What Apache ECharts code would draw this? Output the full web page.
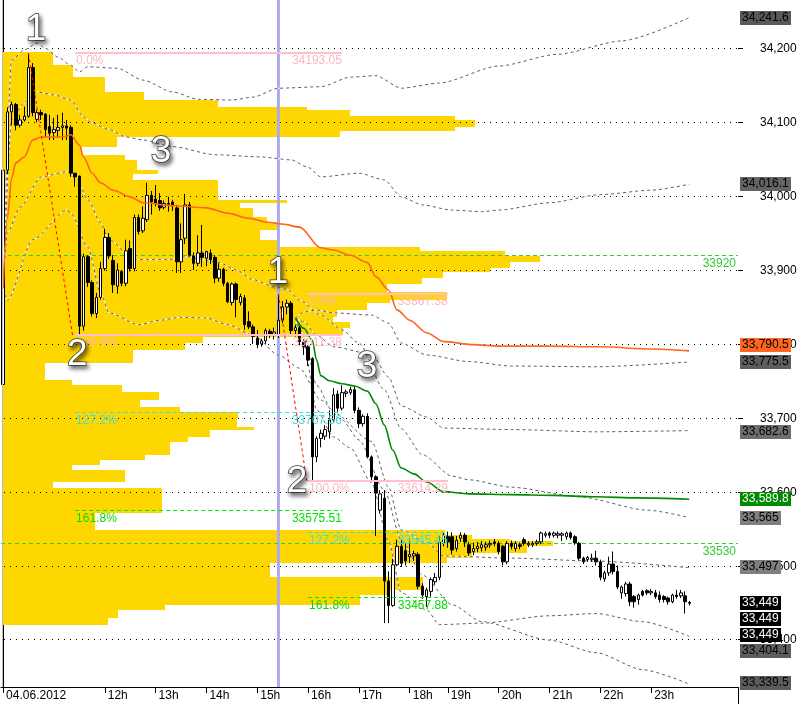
<!DOCTYPE html>
<html><head><meta charset="utf-8">
<script src="https://cdn.jsdelivr.net/npm/echarts@6/dist/echarts.min.js"></script>
<style>html,body{margin:0;padding:0;background:#fff}#c{width:799px;height:704px}</style>
</head><body><div id="c"></div><script>
// ---------------- DATA ----------------
const sessionHours = [10,11,12,13,14,15,16,17,18,19,20,21,22,23];
const barsPerHour  = [12,12,12,12,12,12,12,12, 9,12,12,12,12,12];
const futureSlots = ['00:00','00:05','00:10','00:15','00:20','00:25','00:30','00:35','00:40'];
const dateLabel = '04.06.2012';

// [open, close, low, high] M5 bars
const candles = [
[33745,34035,33730,34040],[34035,34114,34030,34120],[34114,34124,34096,34128],[34124,34096,34089,34126],
[34096,34103,34093,34110],[34103,34108,34101,34121],[34108,34174,34106,34193.05],[34174,34113,34108,34180],
[34104,34113,34100,34117],[34113,34110,34103,34117],[34111,34090,34080,34112],[34094,34085,34076,34110],
[34086,34090,34076,34106],[34089,34093,34079,34110],[34093,34095,34076,34113],[34095,34092,34076,34103],
[34093,34031,34026,34096],[34031,34026,34013,34031],[34027,33824,33811.38,34028],[33824,33918,33818,33922],
[33918,33883,33877,33920],[33883,33841,33837,33886],[33841,33863,33835,33869],[33863,33902,33860,33911],
[33902,33944,33899,33956],[33944,33919,33915,33950],[33913,33880,33869,33920],[33878,33900,33868,33909],
[33898,33882,33878,33900],[33882,33926,33878,33941],[33929,33902,33898,33940],[33902,33971,33898,33975],
[33971,33952,33948,33975],[33953,33970,33950,33986],[33968,34001,33965,34018],[34001,33992,33975,34007],
[33996,33990,33986,34015],[33994,33984,33980,34004],[33985,33990,33982,33994],[33990,33989,33979,33999],
[33992,33987,33980,33995],[33984,33911,33896,33988],[33911,33941,33896,33963],[33943,33988,33935,34003],
[33988,33920,33918,33992],[33919,33909,33900,33924],[33909,33923,33905,33947],[33923,33917,33904,33961],
[33916,33925,33905,33926],[33923,33914,33908,33928],[33917,33889,33882,33920],[33889,33901,33884,33909],
[33901,33882,33878,33903],[33882,33857,33855,33884],[33856,33881,33852,33883],[33881,33860,33836,33883],
[33856,33864,33852,33868],[33862,33826,33819,33866],[33830,33823,33820,33844],[33823,33810,33800,33826],
[33808,33799,33794,33819],[33800,33804,33796,33807],[33804,33818,33800,33821],[33817,33813,33808,33820],
[33813,33816,33806,33822],[33812,33832,33808,33867.38],[33832,33850,33828,33858],[33850,33855,33840,33860],
[33855,33818,33812,33858],[33818,33822,33810,33826],[33822,33803,33798,33825],[33803,33796,33785,33806],
[33796,33778,33770,33800],[33780,33647,33614.29,33782],[33647,33672,33640,33675],[33672,33679,33660,33684],
[33675,33684,33670,33690],[33681,33697,33672,33710],[33697,33731,33694,33740],[33732,33713,33708,33737],
[33713,33734,33710,33744],[33733,33735,33728,33738],[33734,33738,33731,33742],[33738,33710,33706,33743],
[33710,33692,33686,33714],[33692,33702,33688,33705],[33702,33647,33645,33706],[33647,33620,33614,33649],
[33620,33598,33540,33622],[33575,33597,33570,33602],[33591,33479,33422,33602],[33479,33446,33422,33492],
[33446,33501,33444,33509],[33501,33526,33499,33535],[33526,33503,33498,33535],[33520,33506,33500,33530],
[33512,33515,33503,33535],[33513,33516,33506,33520],[33515,33472,33468,33518],[33472,33460,33455,33476],
[33458,33467,33444,33470],[33465,33481,33458,33484],[33478,33484,33474,33490],[33484,33532,33480,33540],
[33530,33541,33526,33545],[33539,33532,33524,33546],[33539,33521,33515,33545],[33523,33534,33519,33540],
[33537,33541,33532,33545],[33541,33532,33525,33544],[33528,33517,33513,33532],[33519,33523,33514,33531],
[33523,33526,33518,33532],[33524,33528,33519,33533],[33525,33528,33520,33532],[33528,33530,33524,33534],
[33532,33530,33526,33536],[33530,33519,33515,33533],[33526,33505,33500,33528],[33505,33530,33502,33533],
[33530,33526,33522,33534],[33523,33530,33519,33533],[33528,33526,33522,33531],[33535,33530,33527,33538],
[33528,33530,33525,33533],[33528,33530,33525,33533],[33530,33532,33527,33535],[33532,33544,33529,33546],
[33541,33543,33538,33546],[33544,33541,33537,33546],[33541,33544,33538,33546],[33541,33543,33537,33546],
[33541,33543,33533,33545],[33539,33544,33535,33546],[33544,33538,33535,33546],[33539,33531,33528,33541],
[33530,33510,33507,33532],[33510,33505,33502,33512],[33508,33511,33505,33513],[33508,33510,33505,33516],
[33510,33505,33500,33520],[33505,33484,33480,33508],[33482,33490,33478,33493],[33490,33502,33486,33512],
[33502,33492,33488,33519],[33492,33471,33468,33500],[33463,33471,33455,33473],[33462,33475,33458,33478],
[33475,33451,33445,33478],[33458,33451,33443,33460],[33454,33460,33447,33462],[33465,33460,33458,33467],
[33466,33463,33460,33468],[33463,33465,33460,33468],[33463,33458,33455,33467],[33460,33454,33450,33465],
[33458,33454,33450,33460],[33456,33451,33447,33458],[33451,33460,33449,33462],[33460,33458,33455,33467],
[33459,33463,33456,33467],[33459,33451,33435,33465],[33450,33449,33446,33452]
];

// volume profile rows: [top price, bottom price, length in bars]
const profileRows = [
[34195.0,34177.4,12.3],[34177.4,34161.2,17.0],[34161.2,34140.9,24.6],[34140.9,34130.1,33.8],
[34130.1,34120.6,51.2],[34120.6,34116.5,72.2],[34116.5,34108.4,82.4],[34108.4,34103.0,107.2],
[34103.0,34093.5,111.9],[34093.5,34088.1,107.2],[34088.1,34080.0,80.0],[34080.0,34066.5,27.4],
[34066.5,34055.7,19.1],[34055.7,34048.9,29.3],[34048.9,34035.4,32.1],[34035.4,34030.0,37.1],
[34030.0,34021.8,31.2],[34021.8,33994.8,51.2],[33994.8,33990.7,67.5],[33990.7,33983.9,56.4],
[33983.9,33971.8,59.5],[33971.8,33965.0,62.8],[33965.0,33954.2,65.2],[33954.2,33940.6,61.1],
[33940.6,33931.2,65.2],[33931.2,33925.7,98.9],[33925.7,33919.0,119.0],[33919.0,33910.8,127.2],
[33910.8,33902.7,120.2],[33902.7,33897.3,115.4],[33897.3,33889.2,104.3],[33889.2,33881.1,99.4],
[33881.1,33870.3,91.1],[33870.3,33859.4,105.3],[33859.4,33855.4,91.8],[33855.4,33845.9,86.4],
[33845.9,33836.4,79.3],[33836.4,33829.7,78.4],[33829.7,33821.5,82.4],[33821.5,33812.1,80.7],
[33812.1,33809.4,73.0],[33809.4,33801.3,47.7],[33801.3,33791.8,43.4],[33791.8,33774.2,31.2],
[33774.2,33751.2,10.4],[33751.2,33744.4,16.8],[33744.4,33734.9,28.6],[33734.9,33724.1,37.3],
[33724.1,33714.7,32.8],[33714.7,33707.9,42.3],[33707.9,33699.8,56.0],[33699.8,33687.6,55.7],
[33687.6,33683.5,59.7],[33683.5,33674.1,49.3],[33674.1,33667.3,44.1],[33667.3,33649.7,39.9],
[33649.7,33642.9,34.0],[33642.9,33636.2,23.4],[33636.2,33629.4,16.8],[33629.4,33613.2,29.3],
[33613.2,33605.0,12.3],[33605.0,33571.2,38.0],[33571.2,33548.2,22.2],[33548.2,33541.4,104.8],
[33541.4,33536.0,111.2],[33536.0,33533.3,120.2],[33533.3,33526.5,130.3],[33526.5,33517.1,124.2],
[33517.1,33510.3,111.2],[33510.3,33503.5,105.3],[33503.5,33484.6,63.5],[33484.6,33467.0,99.6],
[33467.0,33460.2,91.8],[33460.2,33446.7,84.8],[33446.7,33439.9,38.7],[33439.9,33429.1,27.6],
[33429.1,33419.6,25.3]
];

// VWAP lines [bar, price]
const vwapDay = [[0,33875],[1,33970],[2,34024],[3,34045],[5,34053],[7,34076],[9,34080],[14,34080],[16,34083],
[18,34069],[19,34053],[21,34031],[23,34018],[26,34008],[30,33999],[33,33991],[40,33987],[48,33984],[53,33977],
[58,33970],[62,33965],[66,33962],[70,33958],[75,33930],[78,33927],[82,33920],[86,33910],[88,33891],[91,33873],
[93,33846],[96,33832],[100,33815],[104,33803],[111,33799],[117,33797],[129,33797],[141,33796],[153,33793],[162,33790.5]];
const vwapUS = [[69,33835],[71,33821],[73,33805],[74,33778],[75,33757],[77,33750],[80,33746],[83,33743],[86,33736],
[88,33719],[90,33690],[92,33656],[94,33632],[97,33624],[100,33613],[104,33600],[110,33597],[120,33596],[130,33595],
[140,33593],[150,33591.5],[162,33589.8]];

// deviation bands [bar, price]
const dayUpper2 = [[0,33875],[2,34184],[5,34198],[8,34207],[10,34200],[13,34188],[16,34177],[18,34168],[20,34175],
[27,34173],[33,34157],[40,34141],[46,34131],[54,34130],[59,34134],[65,34146],[75,34148],[82,34161],[88,34163],
[94,34146],[103,34153],[117,34176],[131,34192],[146,34210],[162,34241.6]];
const dayUpper1 = [[0,33875],[2,34104],[5,34126],[8,34141],[12,34137],[16,34130],[19,34107],[21,34099],[25,34090],
[29,34080],[33,34076],[40,34067],[50,34056],[61,34053],[68,34049],[72,34039],[75,34026],[84,34031],[90,34022],
[94,33999],[99,33988],[106,33981],[113,33979],[117,33981],[129,33991],[141,34002],[153,34008],[162,34016.1]];
const dayLower1 = [[0,33875],[1,33950],[4,33985],[9,34026],[15,34033],[17,34029],[20,33995],[23,33964],[25,33941],
[31,33914],[39,33914],[43,33918],[51,33910],[55,33900],[59,33887],[64,33877],[67,33874],[70,33859],[75,33839],
[80,33819],[84,33801],[90,33738],[94,33685],[99,33650],[106,33621],[110,33616],[120,33606],[136,33593],[152,33575],[162,33565]];
const dayLower2 = [[0,33875],[1,33859],[7,33941],[15,33981],[16,33977],[20,33931],[23,33869],[25,33842],[32,33826],
[37,33832],[42,33836],[48,33835],[53,33826],[59,33812],[65,33785],[70,33767],[75,33724],[80,33697],[84,33670],
[90,33602],[94,33535],[99,33487],[106,33447],[113,33424],[129,33399],[140,33382],[151,33359],[162,33339.5]];
const usUpper2 = [[69,33835],[71,33843],[74,33846],[78,33842],[87,33839],[91,33828],[94,33801],[100,33785],
[110,33776],[120,33770],[140,33769],[162,33775.5]];
const usUpper1 = [[69,33835],[71,33830],[74,33812],[78,33796],[87,33786],[91,33755],[94,33716],[100,33701],
[104,33686],[120,33684],[140,33681],[162,33682.6]];
const usLower1 = [[69,33835],[71,33813],[74,33744],[78,33707],[87,33668],[91,33606],[94,33548],[100,33531],
[104,33513],[120,33510],[140,33506],[162,33497]];
const usLower2 = [[69,33835],[71,33800],[74,33711],[78,33674],[82,33659],[87,33612],[91,33533],[94,33463],
[100,33440],[103,33420],[113,33422],[129,33432],[140,33435],[151,33424],[162,33404.1]];

// zigzag legs [bar, price]
const zigzag1 = [[6,34193.05],[16.4,33811.38]];
const zigzag2 = [[65,33867.38],[71.7,33614.29]];

// fibonacci objects
const fibRatios = ['0.0%','100.0%','127.2%','161.8%'];
const fib1Levels = [34193.05,33811.38,33707.56,33575.51];
const fib2Levels = [33867.38,33614.29,33545.45,33457.88];
const fibStartBars = [17,72];
const fibEndBars = [80,105];

// wave labels
const waveTexts = ['1','2','3','1','2','3'];
const wavePoints = [[7.8,34225],[17.5,33785],[37.3,34060],[64.9,33896],[69.4,33613],[85.9,33769]];

const levelLines = [33920,33530];
const sessionMarkBar = 65;

const yTicks = [33400,33500,33600,33700,33800,33900,34000,34100,34200];
const tagValues = [34241.6,34016.1,33790.5,33775.5,33682.6,33589.8,33565,33497,33449,33449,33449,33404.1,33339.5];

// ---------------- STYLES / LAYOUT ----------------
const FONT = 'Liberation Sans, Arial, Helvetica, sans-serif';
const Y_MIN = 33335.6, Y_MAX = 34265.4;
const tagFill = ['#5a5a5a','#646464','#ff6622','#5e5e5e','#6e6e6e','#008a00','#7f7f7f','#7f7f7f','#000','#000','#000','#5e5e5e','#5c5c5c'];
const tagInk  = ['#000','#000','#000','#000','#000','#fff','#000','#000','#fff','#fff','#fff','#000','#000'];
const tagNudge = [0,0,-6,0,1,0,0,-1,0,16,32,15,-1];
const fibLineColor = ['#ffc0cb','#ffc0cb','#40e0d0','#00ee00'];
const fibTextColor = ['#ffb6c1','#ffb6c1','#40e0d0','#00dd00'];
const fibLineWidth = [2,2,1,1];
const fibDash = [null,null,[4,3],[4,3]];

const categories = [];
sessionHours.forEach((h,i)=>{ for(let k=0;k<barsPerHour[i];k++){ categories.push(h+':'+String(k*5).padStart(2,'0')); } });
futureSlots.forEach(s=>categories.push(s));
const N = categories.length;

const measureCtx = document.createElement('canvas').getContext('2d');
measureCtx.font = '12px ' + FONT;
const fmt = v => v.toLocaleString('en-US',{maximumFractionDigits:2});
const crisp = v => Math.round(v) + 0.5;

function showHour(idx, val){
  if (idx === 0) return true;
  const p = val.split(':'); const h = +p[0];
  return p[1] === '00' && h >= 12 && h <= 23;
}

function bandPair(pts){
  return [
    {type:'line', xAxisIndex:1, data:pts, symbol:'none', smooth:0.25, smoothMonotone:'x', silent:true, z:3,
     lineStyle:{color:'#ffffff', width:1}},
    {type:'line', xAxisIndex:1, data:pts, symbol:'none', smooth:0.25, smoothMonotone:'x', silent:true, z:3,
     lineStyle:{color:'#606060', width:1, type:[3,3]}}
  ];
}

const fibItems = [];
[fib1Levels, fib2Levels].forEach((lv, s)=>lv.forEach((p, j)=>fibItems.push([s, j, p])));

const series = [
  // profile
  {type:'custom', xAxisIndex:1, yAxisIndex:0, z:1, silent:true, data:profileRows,
   renderItem(params, api){
     const r = profileRows[params.dataIndex];
     const a = api.coord([-0.5, r[0]]), b = api.coord([-0.5 + r[2], r[1]]);
     const y0 = Math.round(a[1]), y1 = Math.round(b[1]);
     return {type:'rect', shape:{x:Math.round(a[0])+2, y:y0, width:Math.round(b[0]-a[0])-2, height:Math.max(1,y1-y0)},
             style:{fill:'#ffd700'}};
   }},
  // grid dots
  {type:'custom', xAxisIndex:1, yAxisIndex:0, z:2, silent:true, data:yTicks.map(v=>[0,v]),
   renderItem(params, api){
     const v = yTicks[params.dataIndex];
     const a = api.coord([-0.5, v]), b = api.coord([N-0.5, v]);
     const y = crisp(a[1]);
     return {type:'line', shape:{x1:a[0]+3, y1:y, x2:b[0], y2:y}, style:{stroke:'#000', lineWidth:1, lineDash:[1,5]}};
   }},
  // session separator (vertical line)
  {type:'custom', xAxisIndex:1, yAxisIndex:0, z:2, silent:true, data:[[sessionMarkBar, Y_MAX]],
   renderItem(params, api){
     const cs = params.coordSys;
     const x = api.coord([sessionMarkBar, Y_MAX])[0];
     return {type:'rect', shape:{x:x-1.5, y:cs.y, width:3, height:cs.height}, style:{fill:'#aaaaf2'}};
   }},
  ...bandPair(dayUpper2), ...bandPair(dayUpper1), ...bandPair(dayLower1), ...bandPair(dayLower2),
  ...bandPair(usUpper2), ...bandPair(usUpper1), ...bandPair(usLower1), ...bandPair(usLower2),
  // horizontal level lines
  {type:'custom', xAxisIndex:1, yAxisIndex:0, z:4, silent:true, clip:false, data:levelLines.map(v=>[0,v]),
   renderItem(params, api){
     const v = levelLines[params.dataIndex];
     const a = api.coord([-0.5, v]), b = api.coord([N-0.5, v]);
     const y = crisp(a[1]);
     return {type:'group', children:[
       {type:'line', shape:{x1:a[0], y1:y, x2:b[0], y2:y}, style:{stroke:'#32cd32', lineWidth:1, lineDash:[4,3]}},
       {type:'text', x:b[0]-2, y:y+2, style:{text:String(v), fill:'#32cd32', fontSize:12, fontFamily:FONT,
         align:'right', textAlign:'right', verticalAlign:'top', textVerticalAlign:'top'}}
     ]};
   }},
  // candles
  {type:'candlestick', xAxisIndex:0, yAxisIndex:0, z:5, silent:true, data:candles, barWidth:3,
   itemStyle:{color:'#ffffff', color0:'#000000', borderColor:'#000000', borderColor0:'#000000', borderColorDoji:'#000000', borderWidth:1}},
  // VWAPs
  {type:'line', xAxisIndex:1, data:vwapDay, symbol:'none', smooth:0.3, smoothMonotone:'x', z:6, silent:true,
   lineStyle:{color:'#ff6420', width:1.6}},
  {type:'line', xAxisIndex:1, data:vwapUS, symbol:'none', smooth:0.3, smoothMonotone:'x', z:6, silent:true,
   lineStyle:{color:'#008a00', width:1.6}},
  // zigzag
  {type:'line', xAxisIndex:1, data:zigzag1, symbol:'none', z:7, silent:true, lineStyle:{color:'#ff0000', width:1, type:[3,3]}},
  {type:'line', xAxisIndex:1, data:zigzag2, symbol:'none', z:7, silent:true, lineStyle:{color:'#ff0000', width:1, type:[3,3]}},
  // fibonacci
  {type:'custom', xAxisIndex:1, yAxisIndex:0, z:7, silent:true, data:fibItems,
   renderItem(params, api){
     const it = fibItems[params.dataIndex];
     const s = it[0], j = it[1], p = it[2];
     const a = api.coord([fibStartBars[s], p]), b = api.coord([fibEndBars[s], p]);
     const y = fibLineWidth[j] === 2 ? Math.round(a[1]) : crisp(a[1]);
     const ts = {fill:fibTextColor[j], fontSize:12, fontFamily:FONT, verticalAlign:'top', textVerticalAlign:'top'};
     return {type:'group', children:[
       {type:'line', shape:{x1:a[0], y1:y, x2:b[0], y2:y}, style:{stroke:fibLineColor[j], lineWidth:fibLineWidth[j], lineDash:fibDash[j]}},
       {type:'text', x:a[0]+1, y:y+2, style:Object.assign({text:fibRatios[j], align:'left', textAlign:'left'}, ts)},
       {type:'text', x:b[0], y:y+2, style:Object.assign({text:p.toFixed(2), align:'right', textAlign:'right'}, ts)}
     ]};
   }},
  // wave labels
  {type:'custom', xAxisIndex:1, yAxisIndex:0, z:9, silent:true, clip:false, data:wavePoints,
   renderItem(params, api){
     const w = wavePoints[params.dataIndex];
     const c = api.coord(w);
     return {type:'text', x:c[0], y:c[1], style:{text:waveTexts[params.dataIndex], fontSize:37, fontFamily:FONT,
       fill:'#ffffff', stroke:'#3a3a3a', lineWidth:1.5, align:'center', textAlign:'center', verticalAlign:'middle', textVerticalAlign:'middle',
       shadowBlur:4, shadowColor:'rgba(0,0,0,0.55)', shadowOffsetX:2, shadowOffsetY:3,
       textShadowBlur:4, textShadowColor:'rgba(0,0,0,0.55)', textShadowOffsetX:2, textShadowOffsetY:3}};
   }},
  // price scale ticks & labels
  {type:'custom', xAxisIndex:1, yAxisIndex:0, z:9, silent:true, clip:false, data:yTicks.map(v=>[0,v]),
   renderItem(params, api){
     const v = yTicks[params.dataIndex];
     const b = api.coord([N-0.5, v]);
     const y = crisp(b[1]);
     return {type:'group', children:[
       {type:'line', shape:{x1:b[0], y1:y, x2:b[0]+5, y2:y}, style:{stroke:'#000', lineWidth:1}},
       {type:'text', x:b[0]+22, y:y, style:{text:fmt(v), fill:'#000', fontSize:12, fontFamily:FONT,
         align:'left', textAlign:'left', verticalAlign:'middle', textVerticalAlign:'middle'}}
     ]};
   }},
  // price tags
  {type:'custom', xAxisIndex:1, yAxisIndex:0, z:10, silent:true, clip:false, data:tagValues.map(v=>[0,v]),
   renderItem(params, api){
     const i = params.dataIndex, v = tagValues[i];
     const b = api.coord([N-0.5, v]);
     const y = Math.round(b[1] + tagNudge[i]);
     const t = fmt(v);
     const w = Math.ceil(measureCtx.measureText(t).width) + 4;
     return {type:'group', children:[
       {type:'rect', shape:{x:Math.round(b[0])+2, y:y-7, width:w, height:14}, style:{fill:tagFill[i]}},
       {type:'text', x:Math.round(b[0])+4, y:y, style:{text:t, fill:tagInk[i], fontSize:12, fontFamily:FONT,
         align:'left', textAlign:'left', verticalAlign:'middle', textVerticalAlign:'middle'}}
     ]};
   }}
];

const option = {
  animation:false,
  backgroundColor:'#ffffff',
  grid:{left:1, right:61, top:0, bottom:17, containLabel:false, outerBoundsMode:'none'},
  xAxis:[
    {type:'category', data:categories, boundaryGap:true,
     axisLine:{show:true, lineStyle:{color:'#000', width:1}},
     axisTick:{show:true, alignWithLabel:true, interval:showHour, length:6, lineStyle:{color:'#000'}},
     axisLabel:{show:true, interval:showHour, color:'#000', fontSize:12, fontFamily:FONT, align:'left', margin:3,
       padding:[0,0,0,3],
       formatter:(val, idx)=> idx === 0 ? dateLabel : (+val.split(':')[0]) + 'h'},
     splitLine:{show:false}},
    {type:'value', min:-0.5, max:N-0.5, show:false, splitLine:{show:false}}
  ],
  yAxis:[{type:'value', position:'right', min:Y_MIN, max:Y_MAX, scale:true,
    axisLine:{show:true, lineStyle:{color:'#000', width:1}}, axisTick:{show:false}, axisLabel:{show:false}, splitLine:{show:false}}],
  graphic:[
    {type:'line', shape:{x1:738.5, y1:687, x2:738.5, y2:704}, style:{stroke:'#000', lineWidth:1}, z:100},
    {type:'line', shape:{x1:2.5, y1:0, x2:2.5, y2:687}, style:{stroke:'#bdbdbd', lineWidth:1}, z:100}
  ],
  series:series
};

const chart = echarts.init(document.getElementById('c'), null, {renderer:'canvas', width:799, height:704});
chart.setOption(option);
</script></body></html>
